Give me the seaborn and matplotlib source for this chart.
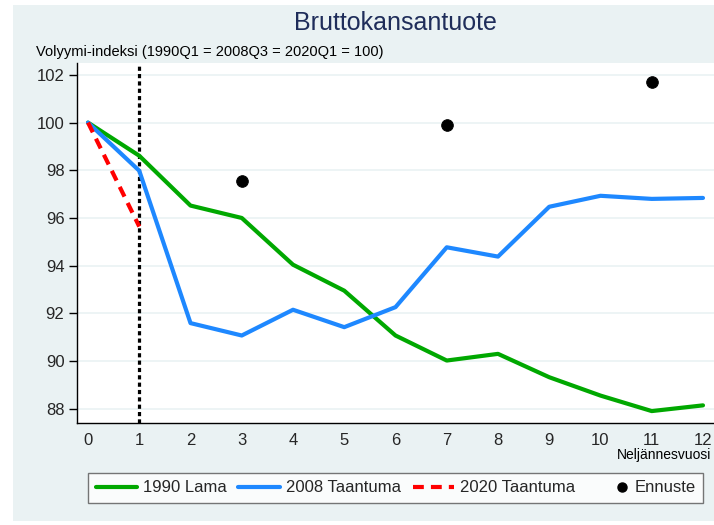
import pandas as pd
import matplotlib
matplotlib.use("Agg")
import matplotlib.pyplot as plt
from matplotlib.patches import Rectangle
from matplotlib.lines import Line2D
from matplotlib.legend_handler import HandlerBase
import seaborn as sns

# ------------ DATA ------------
quarters = list(range(13))
lama_1990 = [100, 98.61, 96.52, 96.0, 94.04, 92.95, 91.07, 90.02, 90.30, 89.32, 88.55, 87.90, 88.14]
taantuma_2008 = [100, 97.98, 91.59, 91.07, 92.15, 91.42, 92.26, 94.77, 94.38, 96.47, 96.93, 96.80, 96.84]
quarters_2020 = [0, 1]
taantuma_2020 = [100, 95.64]
ennuste_quarters = [3, 7, 11]
ennuste = [97.56, 99.92, 101.72]
y_ticks = list(range(88, 103, 2))

# ------------ STYLE ------------
sns.set_theme(style="white")
plt.rcParams["font.family"] = ["Liberation Sans", "DejaVu Sans"]

BG = "#EAF2F3"
W, H = 714, 525


# legend dot sits at the right end of the handle box, like Stata does
class DotHandler(HandlerBase):
    def create_artists(self, legend, orig_handle, xdescent, ydescent, width, height, fontsize, trans):
        dot = Line2D([width - xdescent - 5], [height / 2 - ydescent], marker="o", markersize=6.5,
                     color="black", linestyle="none", transform=trans)
        return [dot]


fig = plt.figure(figsize=(W / 100, H / 100), dpi=100)
fig.patch.set_facecolor("white")
# Stata-like graph region behind everything
fig.patches.append(Rectangle((13 / W, 1 - 521 / H), (W - 13) / W, (521 - 5) / H,
                             transform=fig.transFigure, facecolor=BG, edgecolor="none", zorder=-10))

ax = fig.add_axes([77 / W, 1 - 423 / H, (W - 77) / W, (423 - 63) / H])
ax.set_zorder(1)
ax.set_facecolor("white")

for yv in y_ticks:
    ax.axhline(yv, color=BG, linewidth=1.2, zorder=0)

ax.axvline(1, color="black", linewidth=2.3, linestyle=(0, (1.3, 1.0)), zorder=2)

sns.lineplot(x=quarters, y=lama_1990, color="#00A800", linewidth=3.0, label="1990 Lama", ax=ax, zorder=3)
sns.lineplot(x=quarters, y=taantuma_2008, color="#1E88FF", linewidth=3.0, label="2008 Taantuma", ax=ax, zorder=3)
sns.lineplot(x=quarters_2020, y=taantuma_2020, color="#FF0000", linewidth=3.0,
             linestyle=(0, (2.6, 1.7)), label="2020 Taantuma", ax=ax, zorder=4)
sns.scatterplot(x=ennuste_quarters, y=ennuste, color="black", s=70, edgecolor="black",
                label="Ennuste", ax=ax, zorder=5)

ax.set_xlim(-0.215, 12.215)
ax.set_ylim(87.4, 102.5)
ax.set_xticks(quarters)
ax.set_yticks(y_ticks)
ax.tick_params(axis="y", length=6, width=1, color="black", pad=3, labelsize=12, left=True)
ax.tick_params(axis="x", length=0, pad=7, labelsize=12)
ax.set_xlabel("")
ax.set_ylabel("")
for side in ["top", "right"]:
    ax.spines[side].set_visible(False)
for side in ["left", "bottom"]:
    ax.spines[side].set_color("black")
    ax.spines[side].set_linewidth(1.0)

handles, labels = ax.get_legend_handles_labels()
ax.get_legend().remove()
leg = fig.legend(handles, labels, ncol=4, loc="center",
                 bbox_to_anchor=(395.5 / W, 1 - 488 / H),
                 handler_map={handles[3]: DotHandler()},
                 frameon=True, fancybox=False, fontsize=12,
                 handlelength=2.5, handletextpad=0.35, borderaxespad=0, borderpad=0.45,
                 columnspacing=0.7)
leg.get_frame().set_edgecolor("#555555")
leg.get_frame().set_linewidth(1.0)
leg.get_frame().set_facecolor("white")

fig.text(395 / W, 1 - 23 / H, "Bruttokansantuote", ha="center", va="center",
         fontsize=18, color="#1F2D5A")
fig.text(36 / W, 1 - 52 / H, "Volyymi-indeksi (1990Q1 = 2008Q3 = 2020Q1 = 100)",
         ha="left", va="center", fontsize=10.5, color="black")
fig.text(711 / W, 1 - 455 / H, "Neljännesvuosi", ha="right", va="center",
         fontsize=10, color="black")

fig.savefig("out.png", dpi=100, facecolor=fig.get_facecolor())
